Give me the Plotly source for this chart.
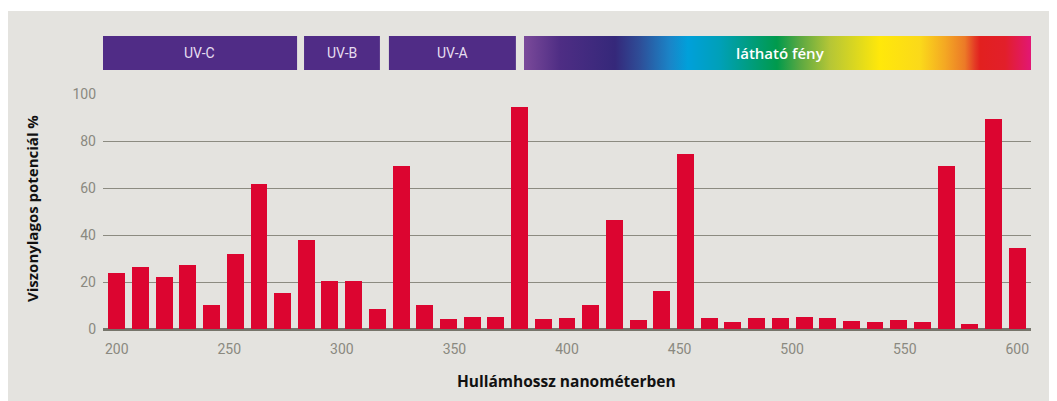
import plotly.graph_objects as go

# hullámhossz (nm) és relatív potenciál (%)
wavelengths = [200.0, 210.5, 221.1, 231.6, 242.1, 252.6, 263.2, 273.7, 284.2, 294.7,
               305.3, 315.8, 326.3, 336.8, 347.4, 357.9, 368.4, 378.9, 389.5, 400.0,
               410.5, 421.1, 431.6, 442.1, 452.6, 463.2, 473.7, 484.2, 494.7, 505.3,
               515.8, 526.3, 536.8, 547.4, 557.9, 568.4, 578.9, 589.5, 600.0]
potential = [24, 26.5, 22.2, 27.3, 10.3, 32, 61.8, 15.4, 38, 20.5,
             20.5, 8.6, 69.4, 10.3, 4.4, 5.2, 5.2, 94.5, 4.4, 4.8,
             10.3, 46.5, 4.0, 16.3, 74.5, 4.8, 3.1, 4.8, 4.8, 5.2,
             4.8, 3.5, 3.1, 4.0, 3.1, 69.4, 2.3, 89.4, 34.6]

x_ticks = [200, 250, 300, 350, 400, 450, 500, 550, 600]
y_ticks = [0, 20, 40, 60, 80, 100]

# spektrum sávok
band_labels = ['UV-C', 'UV-B', 'UV-A']
band_start = [193.5, 283.2, 320.9]
band_end = [280.1, 316.9, 377.3]
visible_label = 'látható fény'
visible_start = 380.9
visible_end = 607.0

visible_colors = [
    [0.0, '#7b4a9a'], [0.071, '#4e2d84'], [0.179, '#35287a'], [0.228, '#2e4e98'],
    [0.287, '#1a85c8'], [0.322, '#00a0da'], [0.385, '#00a0b8'], [0.497, '#009a4c'],
    [0.542, '#5aa842'], [0.601, '#b5c636'], [0.699, '#ffe80a'], [0.778, '#fbd91a'],
    [0.827, '#f4a823'], [0.866, '#ec7a27'], [0.886, '#e43a25'], [0.896, '#e2201f'],
    [0.945, '#e21f2a'], [1.0, '#e2167a'],
]

# oldal-koordináták (a body 8 px-es margója miatt eltolva)
OFF = 8
PAGE_W, PAGE_H = 1057, 401
PLOT_L, PLOT_R, PLOT_T, PLOT_B = 103, 1031, 36, 329
W, H = PAGE_W - OFF, PAGE_H - OFF
PW, PH = PLOT_R - PLOT_L, PLOT_B - PLOT_T


def px(x):
    return (x - PLOT_L) / PW


def py(y):
    return (PLOT_B - y) / PH


GREY = '#e4e3df'
RED = '#dc0530'
PURPLE = '#502c86'

fig = go.Figure()

fig.add_trace(go.Bar(x=wavelengths, y=potential, width=7.5,
                     marker=dict(color=RED, line=dict(width=0)),
                     showlegend=False, hoverinfo='x+y'))

# UV sávok
for lab, a, b in zip(band_labels, band_start, band_end):
    fig.add_trace(go.Scatter(x=[a, b, b, a, a], y=[0, 0, 1, 1, 0], yaxis='y2',
                             mode='lines', fill='toself', fillcolor=PURPLE,
                             line=dict(width=0), showlegend=False, hoverinfo='skip'))
    fig.add_annotation(x=(a + b) / 2, y=0.5, xref='x', yref='y2', text=lab,
                       showarrow=False, xanchor='center', yanchor='middle',
                       font=dict(family='Roboto', size=14, color='#e6def0'))

fig.add_trace(go.Scatter(x=[visible_start, visible_end, visible_end, visible_start, visible_start],
                         y=[0, 0, 1, 1, 0], yaxis='y2', mode='lines', fill='toself',
                         fillgradient=dict(type='horizontal', colorscale=visible_colors),
                         line=dict(width=0), showlegend=False, hoverinfo='skip'))
fig.add_annotation(x=px(780), y=0.5, xref='paper', yref='y2', text=visible_label,
                   showarrow=False, xanchor='center', yanchor='middle',
                   font=dict(family='Open Sans', size=15, color='#ffffff', weight=600))

# tengelycímek
fig.add_annotation(x=px(32), y=py(209), xref='paper', yref='paper',
                   text='Viszonylagos potenciál %', textangle=-90, showarrow=False,
                   xanchor='center', yanchor='middle',
                   font=dict(family='Open Sans', size=15, color='#111111', weight='bold'))
fig.add_annotation(x=px(566), y=py(381), xref='paper', yref='paper',
                   text='Hullámhossz nanométerben', showarrow=False,
                   xanchor='center', yanchor='middle',
                   font=dict(family='Open Sans', size=15.5, color='#111111', weight='bold'))

# szürke háttér (fent és balra fehér szegély)
fig.add_shape(type='rect', xref='paper', yref='paper', layer='below',
              x0=px(6), x1=px(PAGE_W + 5), y0=py(PAGE_H + 5), y1=py(11),
              fillcolor=GREY, line=dict(width=0))

fig.update_layout(
    width=W, height=H,
    margin=dict(l=PLOT_L - OFF, r=PAGE_W - PLOT_R, t=PLOT_T - OFF, b=PAGE_H - PLOT_B),
    paper_bgcolor='white', plot_bgcolor='rgba(0,0,0,0)',
    bargap=0,
    xaxis=dict(range=[193.9, 606.1], tickvals=x_ticks, showgrid=False, zeroline=False,
               showline=False, ticks='', ticklabelstandoff=10,
               tickfont=dict(family='Roboto', size=14, color='#8a8980')),
    yaxis=dict(domain=[0, py(94)], range=[0, 100], tickvals=y_ticks,
               showgrid=True, gridcolor='#8c8b81', gridwidth=1.3,
               zeroline=True, zerolinecolor='#76756b', zerolinewidth=2.5,
               showline=False, ticks='', ticklabelstandoff=6,
               tickfont=dict(family='Roboto', size=14, color='#8a8980')),
    yaxis2=dict(domain=[py(70), 1], range=[0, 1], anchor='x', visible=False,
                showgrid=False, zeroline=False, fixedrange=True),
)

fig.write_html('out.html')
